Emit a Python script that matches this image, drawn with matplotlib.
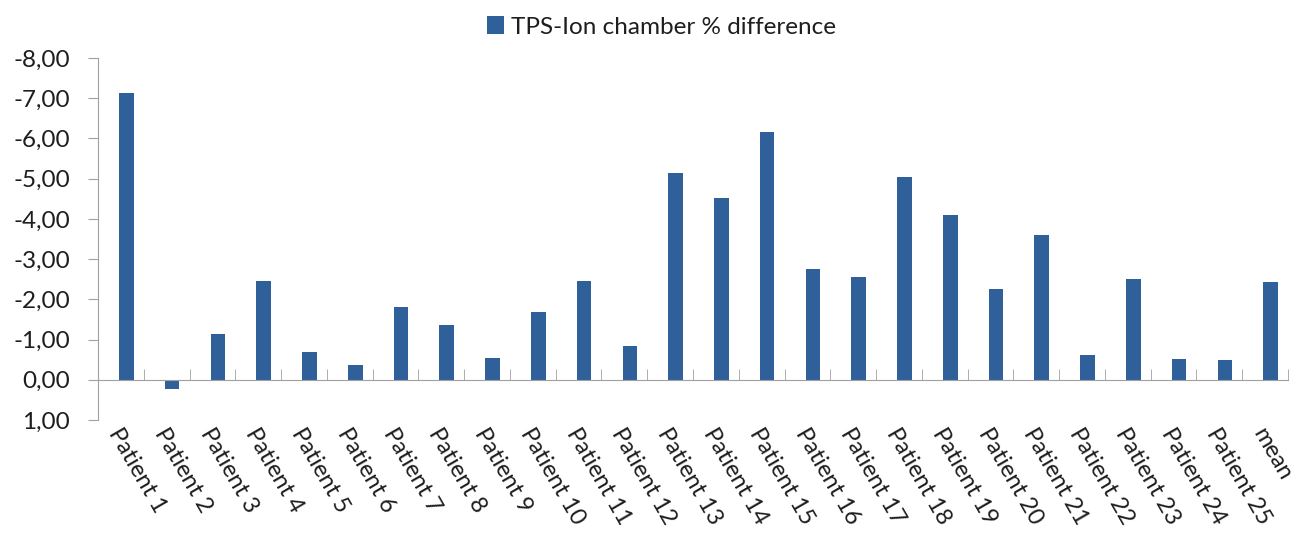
import matplotlib.pyplot as plt
import matplotlib.ticker as mticker
import numpy as np

# values (TPS - ion chamber, % difference)
categories = ["Patient 1", "Patient 2", "Patient 3", "Patient 4", "Patient 5",
              "Patient 6", "Patient 7", "Patient 8", "Patient 9", "Patient 10",
              "Patient 11", "Patient 12", "Patient 13", "Patient 14", "Patient 15",
              "Patient 16", "Patient 17", "Patient 18", "Patient 19", "Patient 20",
              "Patient 21", "Patient 22", "Patient 23", "Patient 24", "Patient 25",
              "mean"]
diff_pct = [-7.14, 0.22, -1.13, -2.46, -0.69, -0.37, -1.80, -1.36, -0.55, -1.68,
            -2.46, -0.84, -5.15, -4.52, -6.15, -2.76, -2.56, -5.05, -4.09, -2.25,
            -3.61, -0.62, -2.50, -0.52, -0.48, -2.43]
y_ticks = [-8, -7, -6, -5, -4, -3, -2, -1, 0, 1]

plt.rcParams['font.family'] = ['Lato', 'DejaVu Sans']
bar_color = "#30609A"
axis_grey = "#A0A0A0"
text_col = "#1E1E1E"

fig = plt.figure(figsize=(12.94, 5.35), dpi=100)
ax = fig.add_axes([98/1294, 1-420/535, (1288-98)/1294, (420-58)/535])

x = np.arange(len(categories))
ax.bar(x + 0.12, diff_pct, width=0.32, color=bar_color, label="TPS-Ion chamber % difference")

ax.set_xlim(-0.5, len(categories) - 0.5)
ax.set_ylim(1, -8)
ax.set_yticks(y_ticks)
ax.yaxis.set_major_formatter(mticker.FuncFormatter(lambda v, p: f"{v:.2f}".replace(".", ",")))
ax.tick_params(axis='y', direction='out', length=7, color=axis_grey, labelsize=17.5,
               labelcolor=text_col, pad=13)

# category axis sits on the zero line
ax.spines['bottom'].set_position(('data', 0))
ax.spines['bottom'].set_color(axis_grey)
ax.spines['left'].set_color(axis_grey)
ax.spines['top'].set_visible(False)
ax.spines['right'].set_visible(False)

ax.set_xticks(x + 0.04)
ax.set_xticks(x + 0.5, minor=True)
ax.set_xticklabels(categories, rotation=-60, ha='left', va='top', rotation_mode='anchor')
ax.tick_params(axis='x', which='major', length=0, pad=32, labelsize=17, labelcolor=text_col)
ax.tick_params(axis='x', which='minor', direction='in', length=8, color=axis_grey)

fig.legend(loc='center', bbox_to_anchor=(0.511, 1 - 27/535), frameon=False, fontsize=17.5,
           handlelength=0.7, handleheight=0.7, handletextpad=0.3, labelcolor=text_col)

plt.savefig("out.png", dpi=100)
